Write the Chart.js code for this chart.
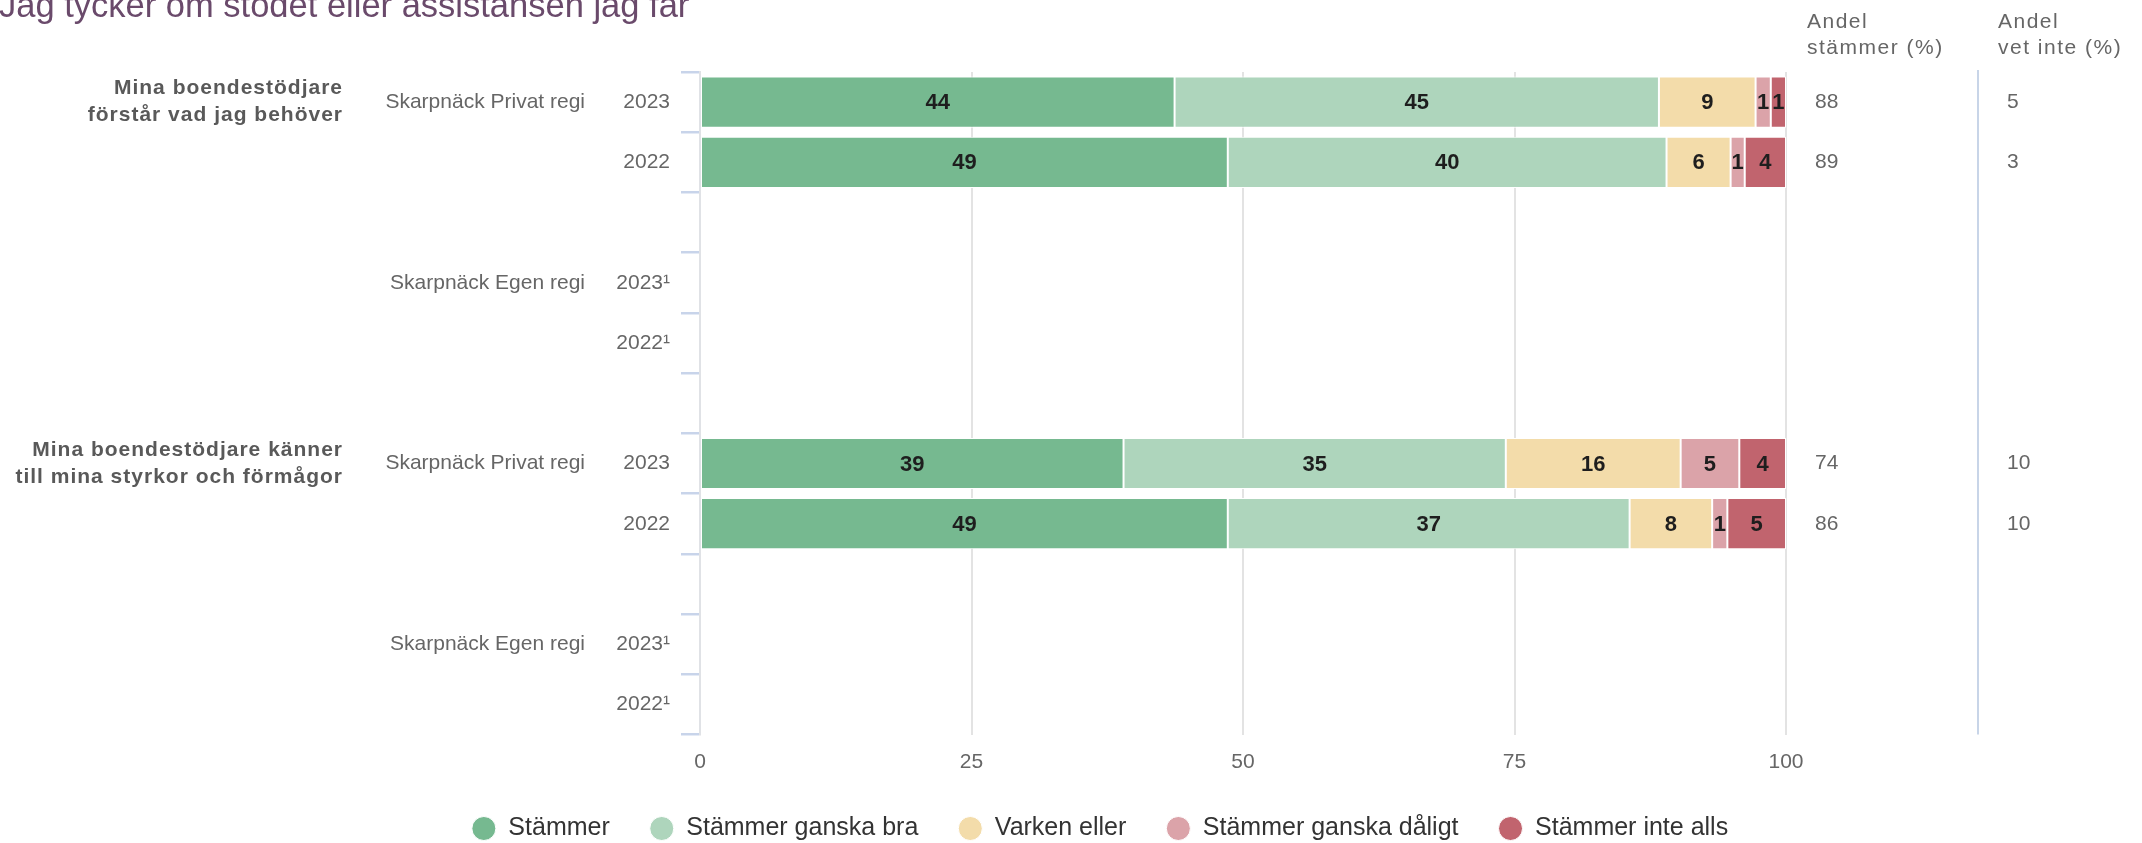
<!DOCTYPE html>
<html>
<head>
<meta charset="utf-8">
<script src="https://cdn.jsdelivr.net/npm/chart.js@4.4.0/dist/chart.umd.min.js"></script>
<style>
  html, body { margin: 0; padding: 0; background: #fff; }
</style>
</head>
<body>
<canvas id="chart" width="2142" height="843"></canvas>
<script>
// rader i diagrammet (tomma rader = mellanrum)
const rowLabels = ["2023", "2022", "", "2023¹", "2022¹", "", "2023", "2022", "", "2023¹", "2022¹"];
const unitLabels = ["Skarpnäck Privat regi", "", "", "Skarpnäck Egen regi", "", "", "Skarpnäck Privat regi", "", "", "Skarpnäck Egen regi", ""];
const questions = [
  ["Mina boendestödjare", "förstår vad jag behöver"],
  ["Mina boendestödjare känner", "till mina styrkor och förmågor"]
];
const questionRows = [0, 6];

const seriesNames = ["Stämmer", "Stämmer ganska bra", "Varken eller", "Stämmer ganska dåligt", "Stämmer inte alls"];
const seriesColors = ["#76b990", "#aed5bc", "#f3dcaa", "#dba3a9", "#c1646e"];

const stammer      = [43.7, 48.6, null, null, null, null, 39.0, 48.6, null, null, null];
const ganskaBra    = [44.6, 40.4, null, null, null, null, 35.2, 37.0, null, null, null];
const varken       = [8.9, 5.9, null, null, null, null, 16.1, 7.6, null, null, null];
const ganskaDaligt = [1.4, 1.3, null, null, null, null, 5.4, 1.4, null, null, null];
const inteAlls     = [1.4, 3.8, null, null, null, null, 4.3, 5.4, null, null, null];

const andelStammer = [88, 89, null, null, null, null, 74, 86, null, null, null];
const andelVetInte = [5, 3, null, null, null, null, 10, 10, null, null, null];

const xTicks = [0, 25, 50, 75, 100];
const title = "Jag tycker om stödet eller assistansen jag får";

const FONT = "'Liberation Sans', Arial, sans-serif";
Chart.defaults.font.family = FONT;
Chart.defaults.color = "#666";

const allSeries = [stammer, ganskaBra, varken, ganskaDaligt, inteAlls];

// siffror inuti staplarna
const barLabels = {
  id: "barLabels",
  afterDatasetsDraw(chart) {
    const ctx = chart.ctx;
    ctx.save();
    ctx.font = "bold 22px " + FONT;
    ctx.fillStyle = "#1e1e1e";
    ctx.textAlign = "center";
    ctx.textBaseline = "middle";
    chart.data.datasets.forEach((ds, di) => {
      const meta = chart.getDatasetMeta(di);
      meta.data.forEach((el, i) => {
        const v = ds.data[i];
        if (v == null) return;
        const p = el.getCenterPoint();
        ctx.fillText(Math.round(v), p.x, p.y + 1);
      });
    });
    ctx.restore();
  }
};

// rubrik, frågor, enheter och kolumnerna till höger
const sideText = {
  id: "sideText",
  afterDraw(chart) {
    const ctx = chart.ctx;
    const area = chart.chartArea;
    const yScale = chart.scales.y;
    ctx.save();

    ctx.font = "34.5px " + FONT;
    ctx.fillStyle = "#6a4a6b";
    ctx.textAlign = "left";
    ctx.textBaseline = "alphabetic";
    ctx.fillText(title, -1, 17);

    ctx.textBaseline = "middle";
    ctx.textAlign = "right";
    ctx.font = "21px " + FONT;
    ctx.fillStyle = "#666";
    unitLabels.forEach((t, i) => {
      if (t) ctx.fillText(t, area.left - 115, yScale.getPixelForValue(i));
    });

    ctx.font = "bold 21px " + FONT;
    ctx.fillStyle = "#595959";
    if ("letterSpacing" in ctx) ctx.letterSpacing = "1px";
    questions.forEach((lines, q) => {
      const yc = yScale.getPixelForValue(questionRows[q]);
      ctx.fillText(lines[0], area.left - 357, yc - 13.5);
      ctx.fillText(lines[1], area.left - 357, yc + 13.5);
    });

    // rubriker till höger
    ctx.font = "21px " + FONT;
    ctx.fillStyle = "#666";
    ctx.textAlign = "left";
    ctx.textBaseline = "alphabetic";
    if ("letterSpacing" in ctx) ctx.letterSpacing = "1.5px";
    ctx.fillText("Andel", area.right + 21, 28);
    ctx.fillText("stämmer (%)", area.right + 21, 54);
    ctx.fillText("Andel", area.right + 212, 28);
    ctx.fillText("vet inte (%)", area.right + 212, 54);
    if ("letterSpacing" in ctx) ctx.letterSpacing = "0px";

    ctx.textBaseline = "middle";
    andelStammer.forEach((v, i) => {
      if (v != null) ctx.fillText(v, area.right + 29, yScale.getPixelForValue(i));
    });
    andelVetInte.forEach((v, i) => {
      if (v != null) ctx.fillText(v, area.right + 221, yScale.getPixelForValue(i));
    });

    ctx.strokeStyle = "#c8d5e8";
    ctx.lineWidth = 2;
    ctx.beginPath();
    ctx.moveTo(area.right + 192, area.top - 2);
    ctx.lineTo(area.right + 192, area.bottom);
    ctx.stroke();

    ctx.restore();
  }
};

new Chart(document.getElementById("chart"), {
  type: "bar",
  data: {
    labels: rowLabels,
    datasets: allSeries.map((d, i) => ({
      label: seriesNames[i],
      data: d,
      backgroundColor: seriesColors[i],
      borderColor: "#ffffff",
      borderWidth: 1,
      borderSkipped: false,
      barPercentage: 0.85,
      categoryPercentage: 1
    }))
  },
  options: {
    indexAxis: "y",
    responsive: false,
    animation: false,
    layout: { padding: { top: 72, right: 0, left: 58, bottom: -8 } },
    scales: {
      x: {
        stacked: true,
        min: 0,
        max: 100,
        afterBuildTicks(scale) {
          scale.ticks = xTicks.map((v) => ({ value: v }));
        },
        afterFit(scale) {
          scale.height -= 13.5;
        },
        ticks: { font: { size: 21, lineHeight: 1 }, color: "#666", padding: 17 },
        grid: { color: "#e3e3e3", lineWidth: 2, drawTicks: false },
        border: { display: false }
      },
      y: {
        stacked: true,
        afterFit(scale) {
          scale.width = 642;
        },
        ticks: { font: { size: 21 }, color: "#666", padding: 11 },
        grid: {
          drawOnChartArea: false,
          offset: true,
          tickLength: 19,
          color: "#c8d4ea",
          lineWidth: 2.5
        },
        border: { display: true, color: "#e0e2e6", width: 2 }
      },
      // tom axel till höger som ger plats åt kolumnerna
      yRight: {
        type: "category",
        position: "right",
        labels: rowLabels,
        afterFit(scale) {
          scale.width = 356;
        },
        ticks: { display: false },
        grid: { display: false },
        border: { display: false }
      }
    },
    plugins: {
      tooltip: { enabled: false },
      legend: {
        position: "bottom",
        labels: {
          usePointStyle: true,
          pointStyle: "circle",
          boxHeight: 17,
          pointStyleWidth: 24,
          padding: 40,
          color: "#333",
          font: { size: 25 }
        }
      }
    }
  },
  plugins: [barLabels, sideText]
});
</script>
</body>
</html>
